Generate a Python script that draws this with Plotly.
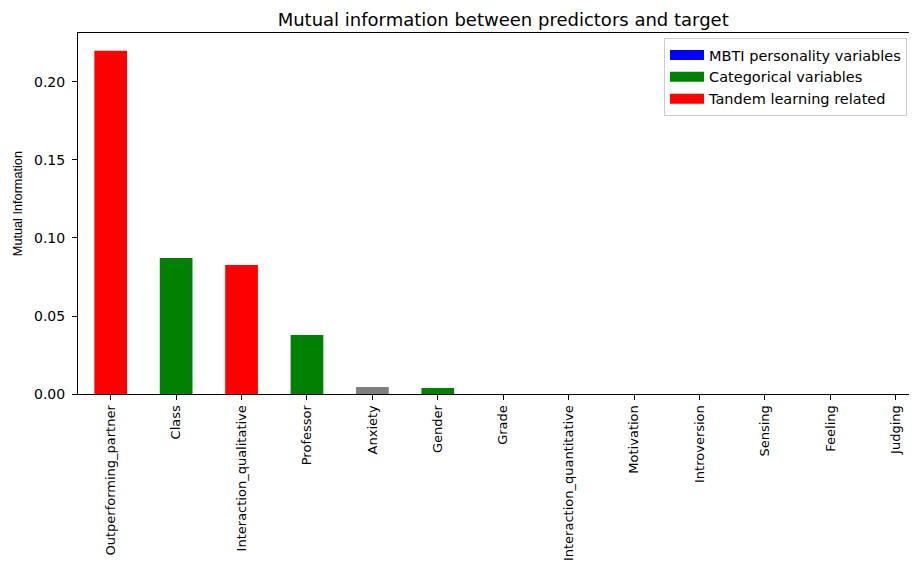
import plotly.graph_objects as go

categories = ["Outperforming_partner", "Class", "Interaction_qualitative", "Professor",
              "Anxiety", "Gender", "Grade", "Interaction_quantitative", "Motivation",
              "Introversion", "Sensing", "Feeling", "Judging"]

tandem_vars = ["Outperforming_partner", "Interaction_qualitative", "Interaction_quantitative"]
tandem_vals = [0.220, 0.0827, 0.0]

categorical_vars = ["Class", "Professor", "Gender", "Grade"]
categorical_vals = [0.0872, 0.0378, 0.0038, 0.0]

mbti_vars = ["Introversion", "Sensing", "Feeling", "Judging"]
mbti_vals = [0.0, 0.0, 0.0, 0.0]

other_vars = ["Anxiety", "Motivation"]
other_vals = [0.0045, 0.0]

y_ticks = [0.00, 0.05, 0.10, 0.15, 0.20]

groups = [
    ("MBTI personality variables", mbti_vars, mbti_vals, "blue", True),
    ("Categorical variables", categorical_vars, categorical_vals, "green", True),
    ("Tandem learning related", tandem_vars, tandem_vals, "red", True),
    ("Other", other_vars, other_vals, "gray", False),
]

fig = go.Figure()
for name, xs, ys, col, leg in groups:
    fig.add_trace(go.Bar(x=xs, y=ys, name=name, showlegend=False,
                         marker=dict(color=col, line=dict(width=0)), width=0.5))
for name, xs, ys, col, leg in groups:
    if leg:
        fig.add_trace(go.Scatter(x=[None], y=[None], mode="lines", name=name,
                                 line=dict(color=col, width=10)))

fig.add_annotation(text="Mutual Information", textangle=-90, showarrow=False,
                   xref="paper", yref="paper", x=-0.0714, y=0.526,
                   xanchor="center", yanchor="middle",
                   font=dict(family="Liberation Sans", size=12.7, color="black"))

fig.update_layout(
    width=917, height=562,
    margin=dict(l=70, r=7, t=25, b=176, autoexpand=False),
    plot_bgcolor="white", paper_bgcolor="white",
    barmode="overlay",
    title=dict(text="Mutual information between predictors and target",
               x=0.540, xanchor="center", y=0.980, yanchor="middle",
               font=dict(family="DejaVu Sans", size=18, color="black")),
    xaxis=dict(categoryorder="array", categoryarray=categories, range=[-0.5, 12.34],
               tickangle=-90, showline=True, linecolor="black", linewidth=1, mirror=True,
               ticks="outside", ticklen=5, tickcolor="black", showgrid=False, automargin=False,
               tickfont=dict(family="DejaVu Sans", size=13, color="black")),
    yaxis=dict(range=[0, 0.2314], tickvals=y_ticks, ticktext=[f"{v:.2f}" for v in y_ticks],
               showline=True, linecolor="black", linewidth=1, automargin=False,
               ticks="outside", ticklen=5, tickcolor="black", showgrid=False, zeroline=False,
               ticklabelstandoff=4,
               tickfont=dict(family="DejaVu Sans", size=14, color="black")),
    legend=dict(x=0.7154, y=0.9466, xref="container", yref="container",
                xanchor="left", yanchor="top",
                bordercolor="#cccccc", borderwidth=1, bgcolor="rgba(255,255,255,0.8)",
                font=dict(family="DejaVu Sans", size=14.5, color="black"),
                tracegroupgap=0, itemwidth=34),
)

fig.write_html("out.html")
